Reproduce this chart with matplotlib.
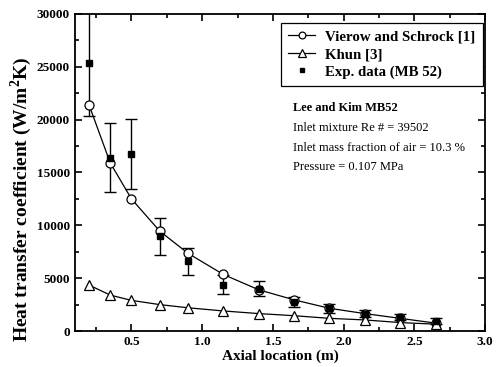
import numpy as np
import matplotlib.pyplot as plt
from matplotlib.ticker import MultipleLocator

plt.rcParams['font.family'] = ['Liberation Serif', 'DejaVu Serif']
plt.rcParams['mathtext.fontset'] = 'custom'
plt.rcParams['mathtext.rm'] = 'Liberation Serif:bold'
plt.rcParams['mathtext.bf'] = 'Liberation Serif:bold'

# axial positions (m)
x = [0.2, 0.35, 0.5, 0.7, 0.9, 1.15, 1.4, 1.65, 1.9, 2.15, 2.4, 2.65]

vierow = [21400, 15900, 12500, 9450, 7350, 5350, 3900, 2950, 2150, 1650, 1200, 750]
khun = [4350, 3400, 2900, 2500, 2200, 1900, 1650, 1450, 1200, 1050, 800, 650]
exp_data = [25400, 16400, 16750, 8950, 6600, 4400, 4000, 2750, 2150, 1650, 1300, 950]
exp_err = [5100, 3250, 3350, 1750, 1300, 900, 720, 500, 400, 350, 300, 250]

fig = plt.figure(figsize=(4.96, 3.67), dpi=100)
ax = fig.add_axes([0.151, 0.098, 0.827, 0.864])

ax.errorbar(x, exp_data, yerr=exp_err, fmt='none', ecolor='black',
            elinewidth=1, capsize=4.5, capthick=1, zorder=2)
ax.plot(x, vierow, '-o', color='black', lw=0.9, ms=6.5, mfc='white', mec='black',
        mew=0.9, label='Vierow and Schrock [1]', zorder=3)
ax.plot(x, khun, '-^', color='black', lw=0.9, ms=7, mfc='white', mec='black',
        mew=0.9, label='Khun [3]', zorder=3)
ax.plot(x, exp_data, 's', color='black', ms=3.8, ls='none',
        label='Exp. data (MB 52)', zorder=4)

ax.set_xlim(0.1, 3.0)
ax.set_ylim(0, 30000)
ax.xaxis.set_major_locator(MultipleLocator(0.5))
ax.xaxis.set_minor_locator(MultipleLocator(0.25))
ax.yaxis.set_major_locator(MultipleLocator(5000))
ax.yaxis.set_minor_locator(MultipleLocator(2500))
ax.tick_params(which='both', direction='in', top=True, right=True, width=1.2)
ax.tick_params(which='major', length=5, labelsize=9.5)
ax.tick_params(which='minor', length=3)
for s in ax.spines.values():
    s.set_linewidth(1.3)
ax.set_xticks([0.5, 1.0, 1.5, 2.0, 2.5, 3.0])
ax.set_xticklabels(['0.5', '1.0', '1.5', '2.0', '2.5', '3.0'])
for lab in ax.get_xticklabels() + ax.get_yticklabels():
    lab.set_fontweight('bold')

ax.set_xlabel('Axial location (m)', fontsize=11, fontweight='bold', labelpad=1)
ax.set_ylabel(r'Heat transfer coefficient (W/m$^2$K)', fontsize=14,
              fontweight='bold')
ax.yaxis.set_label_coords(-0.10, 0.415)

leg = ax.legend(loc='upper right', bbox_to_anchor=(0.995, 0.972), borderaxespad=0,
                fancybox=False, edgecolor='black', framealpha=1, handlelength=1.8,
                markerscale=0.75, prop={'weight': 'bold', 'size': 10.7}, borderpad=0.5,
                labelspacing=0.27, handletextpad=0.7)
leg.get_frame().set_linewidth(0.9)

tx = 0.532
ax.text(tx, 0.703, 'Lee and Kim MB52', transform=ax.transAxes,
        fontsize=9, fontweight='bold', va='center')
ax.text(tx, 0.640, 'Inlet mixture Re # = 39502', transform=ax.transAxes,
        fontsize=9, va='center')
ax.text(tx, 0.577, 'Inlet mass fraction of air = 10.3 %', transform=ax.transAxes,
        fontsize=9, va='center')
ax.text(tx, 0.517, 'Pressure = 0.107 MPa', transform=ax.transAxes,
        fontsize=9, va='center')

fig.savefig('out.png', dpi=100)
